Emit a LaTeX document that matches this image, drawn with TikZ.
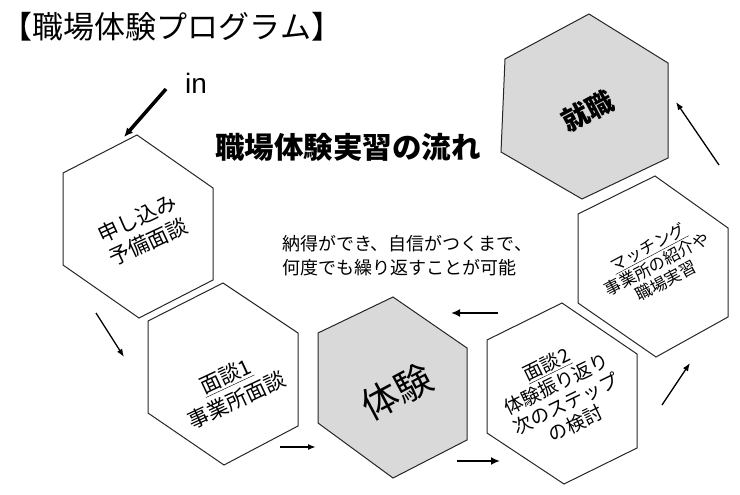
\documentclass[tikz,border=0pt]{standalone}
\usepackage{fontspec}
\setmainfont{Noto Sans CJK JP}
\newfontfamily\latinfont{Liberation Sans}
\usetikzlibrary{arrows.meta}
\begin{document}
\begin{tikzpicture}[x=1pt, y=-1pt,
        hexa/.style={draw=black!85, line width=1pt, line join=miter},
        grayhexa/.style={hexa, fill=black!15},
        hextext/.style={align=center, inner sep=0pt, font=\fontsize{21}{26}\selectfont},
        thinarrow/.style={-{Latex[length=8pt, width=6pt]}, line width=1.3pt},
        thickarrow/.style={-{Latex[length=9pt, width=8pt]}, line width=2.8pt}
    ]
    \useasboundingbox (0,0) rectangle (740,495);

    % hexagons
    \draw[hexa] (137,135) -- (213,188) -- (213,280) -- (139,318) -- (63,265) -- (63,173) -- cycle;
    \draw[hexa] (223,283) -- (298,333) -- (298,426) -- (224,465) -- (148,413) -- (148,321) -- cycle;
    \draw[grayhexa] (393,297) -- (467,348) -- (467,440) -- (393,478) -- (318,423) -- (318,333) -- cycle;
    \draw[hexa] (562,303) -- (637,354) -- (637,448) -- (564,484) -- (487,433) -- (487,340) -- cycle;
    \draw[hexa] (655,176) -- (728,228) -- (728,317) -- (656,357) -- (578,303) -- (578,214) -- cycle;
    \draw[grayhexa] (589,14) -- (668,63) -- (668,158) -- (582,199) -- (501,152) -- (505,59) -- cycle;

    % texts
    \node[anchor=center, inner sep=0pt, font=\fontsize{31}{34}\selectfont] (title) at (172,27) {【職場体験プログラム】};
    \node[anchor=center, inner sep=0pt, font=\fontsize{29.5}{32}\selectfont\bfseries] (flow) at (348,147) {職場体験実習の流れ};
    \node[anchor=west, align=left, inner sep=0pt, font=\fontsize{18}{24}\selectfont] (note) at (282,256)
        {納得ができ、自信がつくまで、\\何度でも繰り返すことが可能};
    \node[anchor=center, inner sep=0pt, font=\latinfont\fontsize{28}{30}\selectfont] (in) at (196,83) {in};

    \node[hextext, rotate=25] (apply) at (143,230) {申し込み\\予備面談};
    \node[hextext, rotate=25] (mendan1) at (231,388) {\underline{面談1}\\事業所面談};
    \node[hextext, rotate=28, font=\fontsize{37}{40}\selectfont] (taiken) at (397,392) {体験};
    \node[hextext, rotate=26, font=\fontsize{19}{22}\selectfont] (mendan2) at (561,394)
        {\underline{面談2}\\体験振り返り\\次のステップ\\の検討};
    \node[hextext, rotate=28, font=\fontsize{16.5}{19}\selectfont] (matching) at (657,264)
        {\underline{マッチング}\\事業所の紹介や\\職場実習};
    \node[hextext, rotate=28, font=\fontsize{27}{30}\selectfont\bfseries] (shushoku) at (588,111) {就職};

    % arrows
    \coordinate (inS) at (166,89);   \coordinate (inE) at (124,137);
    \coordinate (a1S) at (96,313);   \coordinate (a1E) at (124,357);
    \coordinate (a2S) at (280,447);  \coordinate (a2E) at (316,447);
    \coordinate (a3S) at (457,461);  \coordinate (a3E) at (500,461);
    \coordinate (a4S) at (498,313);  \coordinate (a4E) at (451,313);
    \coordinate (a5S) at (662,405);  \coordinate (a5E) at (690,363);
    \coordinate (a6S) at (719,165);  \coordinate (a6E) at (676,102);
    \draw[thickarrow, line width=3.5pt] (inS) -- (inE);
    \draw[thinarrow] (a1S) -- (a1E);
    \draw[thinarrow, line width=1.6pt] (a2S) -- (a2E);
    \draw[thickarrow] (a3S) -- (a3E);
    \draw[thickarrow] (a4S) -- (a4E);
    \draw[thinarrow] (a5S) -- (a5E);
    \draw[thinarrow] (a6S) -- (a6E);
\end{tikzpicture}
\end{document}
